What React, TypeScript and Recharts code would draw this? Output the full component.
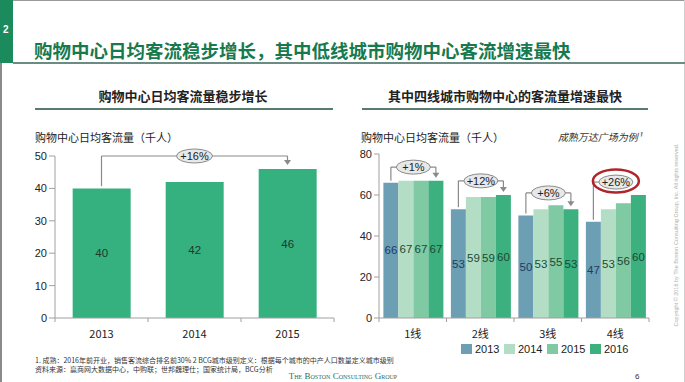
import React from 'react';
import { BarChart, Bar, XAxis, YAxis, LabelList, ReferenceLine, ReferenceDot } from 'recharts';

// ---------- data: left chart ----------
const years = ['2013', '2014', '2015'];
const dailyTraffic = [40, 42, 46];
const leftTicks = [0, 10, 20, 30, 40, 50];
const leftGrowth = '+16%';
const leftBracketLevel = 50;
const leftBracketStart = 40.7;
const leftArrowTip = 47.2;

// ---------- data: right chart ----------
const tiers = ['1线', '2线', '3线', '4线'];
const seriesYears = ['2013', '2014', '2015', '2016'];
const traffic2013 = [66, 53, 50, 47];
const traffic2014 = [67, 59, 53, 53];
const traffic2015 = [67, 59, 55, 56];
const traffic2016 = [67, 60, 53, 60];
const rightTicks = [0, 20, 40, 60, 80];
const tierGrowth = ['+1%', '+12%', '+6%', '+26%'];
const tierBracketLevels = [73.6, 66.9, 61.0, 66.3];
const highlightedTier = 3;

const seriesColors = ['#6c9fb3', '#b3dec5', '#7fc9a3', '#3cb07f'];
const labelColors = ['#1d3d66', '#1b4a35', '#1b4a35', '#1b4a35'];

const leftData = years.map((y, i) => ({ year: y, value: dailyTraffic[i] }));
const rightData = tiers.map((t, i) => ({
  tier: t,
  y2013: traffic2013[i],
  y2014: traffic2014[i],
  y2015: traffic2015[i],
  y2016: traffic2016[i],
}));

const NUM_FONT = '"Liberation Sans", Arial, "Noto Sans CJK SC", sans-serif';
const CJK_FONT = '"Noto Sans CJK SC", "Liberation Sans", sans-serif';
const AXIS_COLOR = '#a0a0a0';
const BRACKET = '#8a8a8a';

const CategoryTick = (props: any) => {
  const { x, y, payload, index, visibleTicksCount, width, fallbackHalf } = props;
  const n = visibleTicksCount || 1;
  let half = Number(width) / n / 2;
  if (!isFinite(half) || half <= 0) half = fallbackHalf;
  return (
    <g>
      <line x1={x - half} y1={y} x2={x - half} y2={y + 4} stroke={AXIS_COLOR} />
      {index === n - 1 && <line x1={x + half} y1={y} x2={x + half} y2={y + 4} stroke={AXIS_COLOR} />}
      <text x={x} y={y + 20} textAnchor="middle" fontSize={11} fill="#222" fontFamily={CJK_FONT}>
        {payload.value}
      </text>
    </g>
  );
};

const Oval = ({ cx, cy, text, rx = 18 }: any) => (
  <g>
    <ellipse cx={cx} cy={cy} rx={rx} ry={7} fill="#e8e8e8" stroke={BRACKET} strokeWidth={1} />
    <text x={cx} y={cy + 4} textAnchor="middle" fontSize={11} fill="#222" fontFamily={NUM_FONT}>
      {text}
    </text>
  </g>
);

const ArrowHead = ({ cx, cy }: any) => (
  <path d={`M${cx - 3.5},${cy - 5} L${cx + 3.5},${cy - 5} L${cx},${cy} Z`} fill={BRACKET} />
);

const getBox = (props: any) => {
  const vb = props.viewBox ?? props;
  return {
    x: Number(vb.x ?? props.x),
    y: Number(vb.y ?? props.y),
    w: Number(vb.width ?? props.width),
    h: Number(vb.height ?? props.height),
  };
};

const BracketStart = (props: any) => {
  const { x, y, w, h } = getBox(props);
  const idx = props.index;
  const value = Number(props.value);
  if (!isFinite(x) || !value) return null;
  const bottom = y + h;
  const levelY = bottom - (tierBracketLevels[idx] * h) / value;
  const x0 = x + w / 2;
  const x1 = x + w * 3.5;
  const cx = (x0 + x1) / 2;
  const hl = idx === highlightedTier;
  return (
    <g>
      <line x1={x0} y1={y - 2} x2={x0} y2={levelY} stroke={BRACKET} strokeWidth={1.2} />
      <line x1={x0} y1={levelY} x2={hl ? cx - 17 : x1} y2={levelY} stroke={BRACKET} strokeWidth={1.2} />
      <Oval cx={cx} cy={levelY} text={tierGrowth[idx]} rx={17} />
      {hl && (
        <ellipse cx={cx} cy={levelY - 1} rx={23} ry={11.5} fill="none" stroke="#b0242c" strokeWidth={2.5} />
      )}
    </g>
  );
};

const BracketEnd = (props: any) => {
  const { x, y, w, h } = getBox(props);
  const idx = props.index;
  const value = Number(props.value);
  if (!isFinite(x) || !value || idx === highlightedTier) return null;
  const bottom = y + h;
  const levelY = bottom - (tierBracketLevels[idx] * h) / value;
  const cx = x + w / 2;
  const tip = y - 3;
  return (
    <g>
      <line x1={cx} y1={levelY} x2={cx} y2={tip - 3} stroke={BRACKET} strokeWidth={1.2} />
      <ArrowHead cx={cx} cy={tip} />
    </g>
  );
};

const text = (content: string, style: React.CSSProperties) => (
  <div style={{ position: 'absolute', whiteSpace: 'nowrap', ...style }}>{content}</div>
);

export default function App() {
  const keys = ['y2013', 'y2014', 'y2015', 'y2016'];
  return (
    <div
      style={{
        position: 'absolute',
        left: 0,
        top: 0,
        width: 685,
        height: 382,
        background: '#fff',
        overflow: 'hidden',
        fontFamily: CJK_FONT,
      }}
    >
      {/* frame */}
      <div style={{ position: 'absolute', left: 0, top: 0, width: 685, height: 1, background: '#9a9a9a' }} />
      <div style={{ position: 'absolute', left: 0, top: 0, width: 2, height: 382, background: '#8a8a8a' }} />
      <div style={{ position: 'absolute', left: 684, top: 0, width: 1, height: 382, background: '#cfcfcf' }} />
      {/* header */}
      <div style={{ position: 'absolute', left: 0, top: 0, width: 13, height: 63, background: '#1b8a5c' }} />
      {text('2', { left: 3, top: 23, fontSize: 10, fontWeight: 700, color: '#fff', fontFamily: NUM_FONT, lineHeight: '14px' })}
      {text('购物中心日均客流稳步增长，其中低线城市购物中心客流增速最快', {
        left: 34,
        top: 37,
        fontSize: 18.5,
        fontWeight: 700,
        color: '#177a4e',
        lineHeight: '26px',
      })}
      <div style={{ position: 'absolute', left: 13, top: 62, width: 672, height: 2, background: '#6b8c85' }} />

      {/* left panel titles */}
      {text('购物中心日均客流量稳步增长', {
        left: 183,
        top: 88,
        transform: 'translateX(-50%)',
        fontSize: 13,
        fontWeight: 700,
        color: '#222',
        lineHeight: '16px',
      })}
      <div style={{ position: 'absolute', left: 35, top: 108, width: 298, height: 2, background: '#587a70' }} />
      {text('购物中心日均客流量（千人）', { left: 35, top: 129, fontSize: 11, color: '#222', lineHeight: '16px' })}

      {/* right panel titles */}
      {text('其中四线城市购物中心的客流量增速最快', {
        left: 505,
        top: 88,
        transform: 'translateX(-50%)',
        fontSize: 13,
        fontWeight: 700,
        color: '#222',
        lineHeight: '16px',
      })}
      <div style={{ position: 'absolute', left: 362, top: 108, width: 286, height: 2, background: '#587a70' }} />
      {text('购物中心日均客流量（千人）', { left: 361, top: 129, fontSize: 11, color: '#222', lineHeight: '16px' })}
      {text('成熟万达广场为例¹', {
        left: 642,
        top: 129,
        transform: 'translateX(-100%)',
        fontSize: 10,
        fontStyle: 'italic',
        color: '#333',
        lineHeight: '16px',
      })}

      {/* left chart */}
      <div style={{ position: 'absolute', left: 0, top: 145 }}>
        <BarChart width={340} height={198} data={leftData} margin={{ top: 11, right: 6, bottom: 0, left: 0 }} barCategoryGap="19%">
          <XAxis
            dataKey="year"
            height={25}
            tickSize={0}
            tickMargin={0}
            tickLine={false}
            axisLine={{ stroke: AXIS_COLOR }}
            tick={<CategoryTick fallbackHalf={46.5} />}
            interval={0}
          />
          <YAxis
            width={55}
            domain={[0, 50]}
            ticks={leftTicks}
            tickSize={6}
            axisLine={{ stroke: AXIS_COLOR }}
            tickLine={{ stroke: AXIS_COLOR }}
            tick={{ fill: '#222', fontSize: 11, fontFamily: NUM_FONT }}
          />
          <Bar dataKey="value" fill="#35b07f" isAnimationActive={false}>
            <LabelList dataKey="value" position="center" fill="#1b3a2b" fontSize={11.5} fontFamily={NUM_FONT} />
          </Bar>
          <ReferenceLine
            segment={[
              { x: years[0], y: leftBracketStart },
              { x: years[0], y: leftBracketLevel },
            ]}
            stroke={BRACKET}
            strokeWidth={1.2}
          />
          <ReferenceLine
            segment={[
              { x: years[0], y: leftBracketLevel },
              { x: years[2], y: leftBracketLevel },
            ]}
            stroke={BRACKET}
            strokeWidth={1.2}
          />
          <ReferenceLine
            segment={[
              { x: years[2], y: leftBracketLevel },
              { x: years[2], y: leftArrowTip + 1 },
            ]}
            stroke={BRACKET}
            strokeWidth={1.2}
          />
          <ReferenceDot x={years[2]} y={leftArrowTip} shape={(p: any) => <ArrowHead cx={p.cx} cy={p.cy} />} />
          <ReferenceDot
            x={years[1]}
            y={leftBracketLevel}
            shape={(p: any) => <Oval cx={p.cx} cy={p.cy} text={leftGrowth} rx={18} />}
          />
        </BarChart>
      </div>

      {/* right chart */}
      <div style={{ position: 'absolute', left: 340, top: 140 }}>
        <BarChart
          width={315}
          height={203}
          data={rightData}
          margin={{ top: 14, right: 6, bottom: 0, left: 0 }}
          barCategoryGap="6.5%"
          barGap={0}
        >
          <XAxis
            dataKey="tier"
            height={25}
            tickSize={0}
            tickMargin={0}
            tickLine={false}
            axisLine={{ stroke: AXIS_COLOR }}
            tick={<CategoryTick fallbackHalf={33.75} />}
            interval={0}
          />
          <YAxis
            width={39}
            domain={[0, 80]}
            ticks={rightTicks}
            tickSize={5}
            axisLine={{ stroke: AXIS_COLOR }}
            tickLine={{ stroke: AXIS_COLOR }}
            tick={{ fill: '#222', fontSize: 11, fontFamily: NUM_FONT }}
          />
          {keys.map((k, i) => (
            <Bar key={k} dataKey={k} name={seriesYears[i]} fill={seriesColors[i]} isAnimationActive={false}>
              <LabelList dataKey={k} position="center" fill={labelColors[i]} fontSize={11.5} fontFamily={NUM_FONT} />
              {i === 0 && <LabelList dataKey={k} content={BracketStart} />}
              {i === 3 && <LabelList dataKey={k} content={BracketEnd} />}
            </Bar>
          ))}
        </BarChart>
      </div>

      {/* legend */}
      <div style={{ position: 'absolute', left: 461, top: 343, display: 'flex', alignItems: 'center' }}>
        {seriesYears.map((y, i) => (
          <div key={y} style={{ width: 43, display: 'flex', alignItems: 'center' }}>
            <div style={{ width: 11, height: 10, background: seriesColors[i], marginRight: 3 }} />
            <span style={{ fontSize: 11, color: '#222', fontFamily: NUM_FONT, lineHeight: '12px' }}>{y}</span>
          </div>
        ))}
      </div>

      {/* footnotes */}
      <div style={{ position: 'absolute', left: 35, top: 356, fontSize: 7, lineHeight: '8.5px', color: '#333', whiteSpace: 'nowrap' }}>
        <div>1. 成熟：2016年前开业，销售客流综合排名前30% 2 BCG城市级别定义：根据每个城市的中产人口数量定义城市级别</div>
        <div>资料来源：赢商网大数据中心，中购联；世邦魏理仕；国家统计局，BCG分析</div>
      </div>
      {text('The Boston Consulting Group', {
        left: 343,
        top: 371,
        transform: 'translateX(-50%)',
        fontSize: 9,
        fontVariant: 'small-caps',
        fontFamily: '"Liberation Serif", "DejaVu Serif", serif',
        color: '#2f6d58',
        lineHeight: '11px',
      })}
      {text('6', { left: 635, top: 372, fontSize: 8, color: '#333', fontFamily: NUM_FONT, lineHeight: '10px' })}
      {text('Copyright © 2016 by The Boston Consulting Group, Inc. All rights reserved.', {
        left: 676,
        top: 235,
        transform: 'translate(-50%, -50%) rotate(-90deg)',
        fontSize: 5.5,
        color: '#b0b0b0',
        fontFamily: NUM_FONT,
        lineHeight: '7px',
      })}
    </div>
  );
}
